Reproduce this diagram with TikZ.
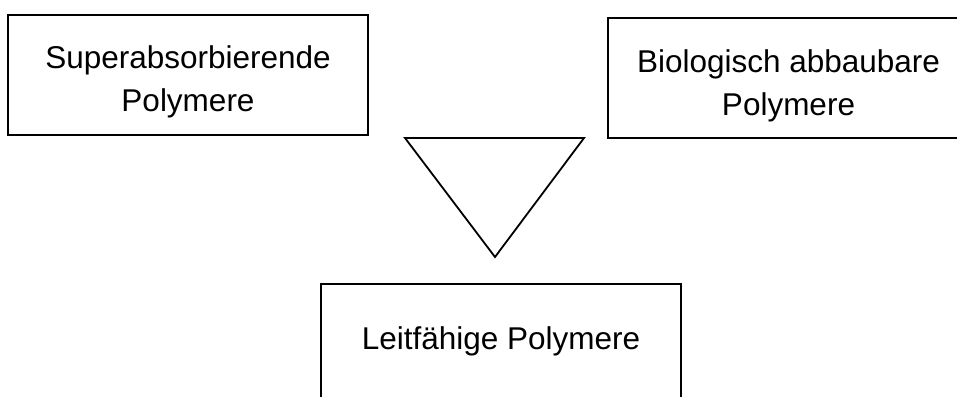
\documentclass[tikz,border=0pt]{standalone}
\usepackage{fontspec}
\setmainfont{Liberation Sans}
\begin{document}
\begin{tikzpicture}[x=1pt,y=-1pt,
  box/.style={draw=black, line width=1.8pt, rectangle, inner sep=0pt,
    minimum width=360pt, minimum height=120pt},
  line text/.style={inner sep=0pt, anchor=base,
    font=\fontsize{31.5}{43}\selectfont}]
  \useasboundingbox (0,0) rectangle (957,396);
  \clip (0,0) rectangle (957,396);
  % upper left box
  \node[box] (sap) at (188,75) {};
  \node[line text] (sap1) at (188,68.3) {Superabsorbierende};
  \node[line text] (sap2) at (188,111.7) {Polymere};
  % upper right box, running off the right edge
  \node[box, minimum width=361pt] (bio) at (788.5,78) {};
  \node[line text] (bio1) at (788.5,72.3) {Biologisch abbaubare};
  \node[line text] (bio2) at (788.5,115.7) {Polymere};
  % downward triangle
  \coordinate (tl) at (405,138);
  \coordinate (tr) at (584,138);
  \coordinate (tb) at (495,257);
  \draw[line width=1.8pt, line join=miter] (tl) -- (tr) -- (tb) -- cycle;
  % lower box, running off the bottom edge
  \node[box, minimum height=140pt, anchor=north] (lp) at (501,283) {};
  \node[line text] (lp1) at (501,349) {Leitfähige Polymere};
\end{tikzpicture}
\end{document}
